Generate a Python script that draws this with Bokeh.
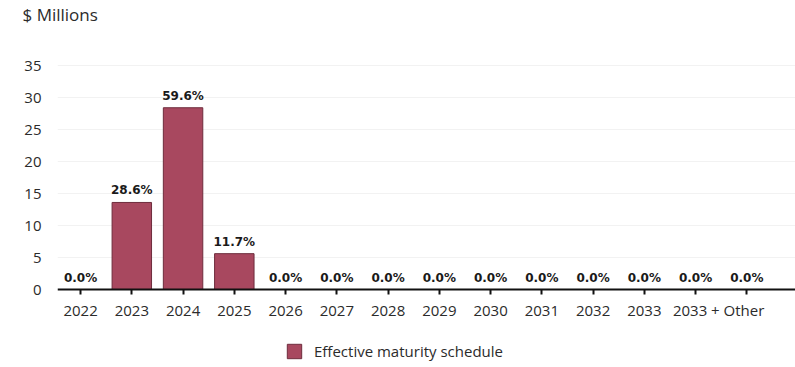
from bokeh.plotting import figure
from bokeh.models import (ColumnDataSource, FixedTicker, Label, Legend, LegendItem,
                          Range1d, LabelSet)
from bokeh.core.properties import value
from bokeh.embed import file_html
from bokeh.resources import INLINE

categories = ["2022", "2023", "2024", "2025", "2026", "2027", "2028", "2029",
              "2030", "2031", "2032", "2033", "", ""]
last_label = "2033 + Other"
values = [0.0, 13.6, 28.4, 5.6, 0.0, 0.0, 0.0, 0.0, 0.0, 0.0, 0.0, 0.0, 0.0, 0.0]
pct_labels = ["0.0%", "28.6%", "59.6%", "11.7%", "0.0%", "0.0%", "0.0%", "0.0%",
              "0.0%", "0.0%", "0.0%", "0.0%", "0.0%", "0.0%"]
y_ticks = [0, 5, 10, 15, 20, 25, 30, 35]
series_name = "Effective maturity schedule"
y_title = "$ Millions"

xs = list(range(len(categories)))
src = ColumnDataSource(dict(x=xs, top=values, lbl=pct_labels))

FONT = "Open Sans"
BAR = "#a8485f"
TXT = "#2b2b2b"

p = figure(width=795, height=367, output_backend="svg", toolbar_location=None,
           x_range=Range1d(-0.45, 13.95), y_range=Range1d(-12.1875, 41.25),
           min_border_left=57, min_border_right=0, min_border_top=23,
           min_border_bottom=0, outline_line_color=None)

r = p.vbar(x="x", top="top", width=0.77, source=src, fill_color=BAR,
           line_color="#6e2c3c", line_width=1)

labels = LabelSet(x="x", y="top", text="lbl", source=src, text_align="center",
                  text_baseline="bottom", y_offset=5, text_font=value("DejaVu Sans"),
                  text_font_style="bold", text_font_size="12px", text_color="#1a1a1a")
p.add_layout(labels)

# title
p.title.text = y_title
p.title.align = "left"
p.title.vertical_align = "bottom"
p.title.offset = -35
p.title.standoff = 0
p.title.text_font = FONT
p.title.text_font_size = "17px"
p.title.text_font_style = "normal"
p.title.text_color = TXT

# y axis
p.yaxis.ticker = FixedTicker(ticks=y_ticks)
p.yaxis.axis_line_color = None
p.yaxis.major_tick_line_color = None
p.yaxis.minor_tick_line_color = None
p.yaxis.major_label_standoff = 10
p.yaxis.major_label_text_font = FONT
p.yaxis.major_label_text_font_size = "15px"
p.yaxis.major_label_text_color = TXT

# x axis (drawn at y = 0)
p.xaxis.fixed_location = 0
p.xaxis.ticker = FixedTicker(ticks=xs)
p.xaxis.major_label_overrides = {i: c for i, c in enumerate(categories)}
p.xaxis.axis_line_color = "#111111"
p.xaxis.axis_line_width = 2
p.xaxis.major_tick_line_color = "#111111"
p.xaxis.major_tick_line_width = 2
p.xaxis.major_tick_in = 0
p.xaxis.major_tick_out = 5
p.xaxis.minor_tick_line_color = None
p.xaxis.major_label_standoff = 11
p.xaxis.major_label_text_font = FONT
p.xaxis.major_label_text_font_size = "15px"
p.xaxis.major_label_text_color = TXT

p.xgrid.grid_line_color = None
p.ygrid.ticker = FixedTicker(ticks=y_ticks[1:])
p.ygrid.grid_line_color = "#f2f2f2"

p.add_layout(Label(x=12.45, y=0, x_units="data", y_units="data", text=last_label,
                   text_align="center", text_baseline="top", text_font=FONT,
                   text_font_size="15px", text_color=TXT, y_offset=-10))

legend = Legend(items=[LegendItem(label=series_name, renderers=[r])],
                location=(228, 6), orientation="horizontal",
                label_text_font=FONT, label_text_font_size="15px",
                label_text_color=TXT, border_line_color=None,
                glyph_width=18, glyph_height=18, label_height=18, label_standoff=11,
                padding=0, margin=0, background_fill_alpha=0)
p.add_layout(legend, "center")

open("out.html", "w").write(file_html(p, INLINE))
